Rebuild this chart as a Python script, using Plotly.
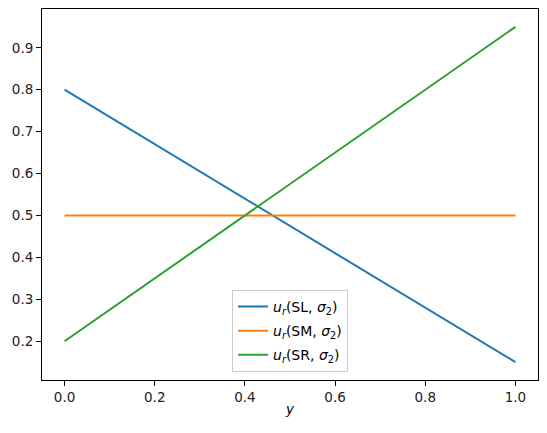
import plotly.graph_objects as go

x_vals = [0.0, 1.0]
sl_vals = [0.8, 0.15]
sm_vals = [0.5, 0.5]
sr_vals = [0.2, 0.95]
names = ["<i>u<sub>r</sub></i>(SL, <i>σ</i><sub>2</sub>)",
         "<i>u<sub>r</sub></i>(SM, <i>σ</i><sub>2</sub>)",
         "<i>u<sub>r</sub></i>(SR, <i>σ</i><sub>2</sub>)"]
colors = ["#1f77b4", "#ff7f0e", "#2ca02c"]
x_ticks = [0.0, 0.2, 0.4, 0.6, 0.8, 1.0]
y_ticks = [0.2, 0.3, 0.4, 0.5, 0.6, 0.7, 0.8, 0.9]

fig = go.Figure()
for i, (vals, name, c) in enumerate(zip([sl_vals, sm_vals, sr_vals], names, colors)):
    fig.add_trace(go.Scatter(x=x_vals, y=vals, mode="lines", name=name,
                             legendgroup=f"g{i}",
                             line=dict(color=c, width=2)))

axis_common = dict(showline=True, linecolor="black", linewidth=1, mirror=True,
                   ticks="outside", ticklen=5, tickwidth=1, tickcolor="black",
                   showgrid=False, zeroline=False,
                   tickfont=dict(family="DejaVu Sans", size=13.5, color="#222222"))
fig.update_xaxes(range=[-0.05, 1.05], tickvals=x_ticks,
                 ticktext=[f"{v:.1f}" for v in x_ticks],
                 title=dict(text="<i>y</i>", font=dict(family="DejaVu Sans", size=13.5, color="black"), standoff=0),
                 **axis_common)
fig.update_yaxes(range=[0.1075, 0.9925], tickvals=y_ticks,
                 ticktext=[f"{v:.1f}" for v in y_ticks], **axis_common)

fig.update_layout(
    width=547, height=433,
    margin=dict(l=42, r=9, t=9, b=53),
    plot_bgcolor="white", paper_bgcolor="white",
    font=dict(family="DejaVu Sans", size=13.5, color="black"),
    legend=dict(x=0.5, y=0.022, xanchor="center", yanchor="bottom",
                bgcolor="rgba(255,255,255,0.8)", bordercolor="#cccccc", borderwidth=1,
                font=dict(family="DejaVu Sans", size=14, color="black"),
                tracegroupgap=3, itemwidth=30),
)
fig.write_html("out.html")
